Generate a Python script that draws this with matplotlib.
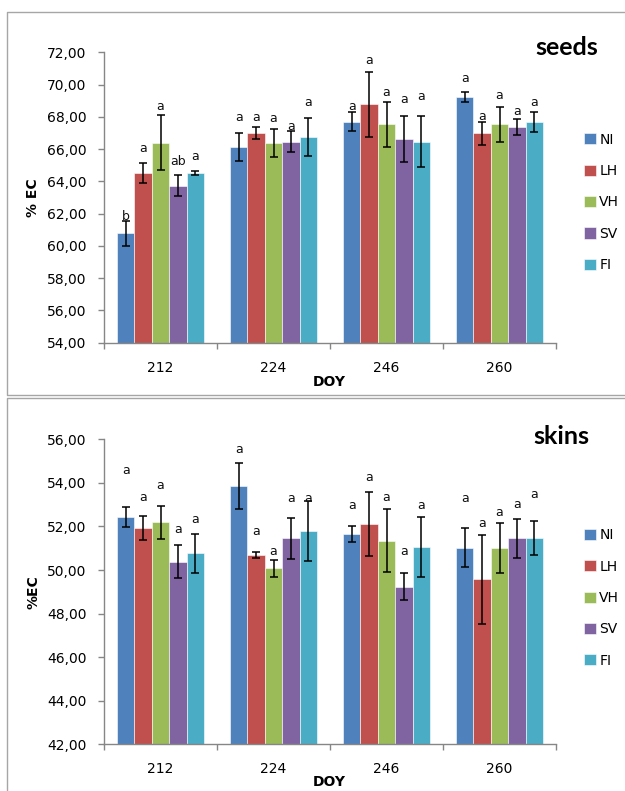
import matplotlib
matplotlib.use("Agg")
import matplotlib.pyplot as plt
import numpy as np
from matplotlib.ticker import FuncFormatter, FixedLocator
from matplotlib.lines import Line2D

# ---- data -------------------------------------------------------------
doy = ["212", "224", "246", "260"]
treatments = ["NI", "LH", "VH", "SV", "FI"]
colors = ["#4F81BD", "#C0504D", "#9BBB59", "#8064A2", "#4BACC6"]

# seeds: mean %EC per treatment (rows) for each DOY (columns)
seeds_mean = [
    [60.78, 66.13, 67.70, 69.25],   # NI
    [64.50, 66.98, 68.78, 66.98],   # LH
    [66.40, 66.36, 67.54, 67.54],   # VH
    [63.74, 66.46, 66.63, 67.37],   # SV
    [64.50, 66.73, 66.46, 67.70],   # FI
]
seeds_err = [
    [0.78, 0.84, 0.60, 0.31],
    [0.62, 0.38, 2.00, 0.72],
    [1.70, 0.88, 1.40, 1.08],
    [0.67, 0.65, 1.41, 0.50],
    [0.13, 1.17, 1.57, 0.62],
]
seeds_letters = [
    ["b", "a", "a", "a"],
    ["a", "a", "a", "a"],
    ["a", "a", "a", "a"],
    ["ab", "a", "a", "a"],
    ["a", "a", "a", "a"],
]
seeds_letter_y = [
    [61.81, 67.95, 68.67, 70.35],
    [66.01, 67.95, 71.48, 68.05],
    [68.63, 67.91, 69.52, 69.35],
    [65.26, 67.43, 69.05, 68.31],
    [65.53, 68.88, 69.26, 68.88],
]

# skins
skins_mean = [
    [52.42, 53.84, 51.65, 51.03],
    [51.92, 50.69, 52.11, 49.57],
    [52.19, 50.08, 51.35, 51.03],
    [50.38, 51.46, 49.24, 51.46],
    [50.77, 51.79, 51.07, 51.46],
]
skins_err = [
    [0.46, 1.05, 0.35, 0.90],
    [0.56, 0.12, 1.47, 2.04],
    [0.77, 0.38, 1.43, 1.15],
    [0.75, 0.95, 0.63, 0.90],
    [0.90, 1.36, 1.38, 0.77],
]
skins_letters = [
    ["a", "a", "a", "a"],
    ["a", "a", "a", "a"],
    ["a", "a", "a", "a"],
    ["a", "a", "a", "a"],
    ["a", "a", "a", "a"],
]
skins_letter_y = [
    [54.55, 55.51, 52.96, 53.26],
    [53.32, 51.79, 54.24, 52.14],
    [53.86, 50.84, 53.34, 52.65],
    [51.84, 53.26, 50.84, 53.03],
    [52.30, 53.26, 52.96, 53.48],
]

# ---- figure -----------------------------------------------------------
W, H = 625, 791
fig = plt.figure(figsize=(W / 100, H / 100), dpi=100)
plt.rcParams["font.family"] = ["DejaVu Sans"]

AXIS_GREY = "#868686"
BORDER_GREY = "#A6A6A6"


def px_rect(left, top, right, bottom):
    return [left / W, 1 - bottom / H, (right - left) / W, (bottom - top) / H]


def fmt_comma(v, pos):
    return f"{v:.2f}".replace(".", ",")


def draw_panel(ax, means, errs, letters, letter_y, ymin, ymax, ylabel, title,
               title_xy, legend_y, doy_y):
    n = len(treatments)
    bw = 1 / (n + 1.5)
    x = np.arange(len(doy))
    for i, name in enumerate(treatments):
        xs = x + (i - (n - 1) / 2) * bw
        ax.bar(xs, np.array(means[i]) - ymin, bw, bottom=ymin, color=colors[i],
               edgecolor="white", linewidth=0.4, label=name, zorder=2)
        ax.errorbar(xs, means[i], yerr=errs[i], fmt="none", ecolor="black",
                    elinewidth=1.1, capsize=3, capthick=1.1, zorder=3)
        for j, xv in enumerate(xs):
            ax.text(xv, letter_y[i][j], letters[i][j], ha="center",
                    va="center", fontsize=9, color="#111111", zorder=4)

    ax.set_xlim(-0.5, len(doy) - 0.5)
    ax.set_ylim(ymin, ymax)
    ax.yaxis.set_major_locator(FixedLocator(np.arange(ymin, ymax + 0.1, 2)))
    ax.yaxis.set_major_formatter(FuncFormatter(fmt_comma))
    ax.set_xticks(x)
    ax.set_xticklabels(doy)
    ax.set_xticks(np.arange(-0.5, len(doy), 1), minor=True)
    ax.tick_params(axis="x", which="major", length=0, pad=13, labelsize=10)
    ax.tick_params(axis="x", which="minor", length=4.5, width=1,
                   color=AXIS_GREY, direction="out")
    ax.tick_params(axis="y", length=4.5, width=1, color=AXIS_GREY,
                   direction="out", pad=8, labelsize=10)
    for s in ("top", "right"):
        ax.spines[s].set_visible(False)
    for s in ("left", "bottom"):
        ax.spines[s].set_color(AXIS_GREY)
        ax.spines[s].set_linewidth(1)

    ax.text(-0.157, 0.50, ylabel, transform=ax.transAxes, rotation=90,
            ha="center", va="center", fontsize=10, fontweight="bold")
    ax.text(0.498, doy_y, "DOY", transform=ax.transAxes, ha="center",
            va="center", fontsize=10, fontweight="bold")

    fig.text(title_xy[0] / W, 1 - title_xy[1] / H, title, ha="left",
             va="baseline", fontsize=18, fontweight="bold",
             family=["Lato", "DejaVu Sans"])

    ax.legend(loc="center left", bbox_to_anchor=(1.062, legend_y),
              frameon=False, borderaxespad=0, borderpad=0, fontsize=10,
              handlelength=0.85, handleheight=0.85, handletextpad=0.25,
              labelspacing=1.25)


ax1 = fig.add_axes(px_rect(104, 52.3, 556, 342.7))
draw_panel(ax1, seeds_mean, seeds_err, seeds_letters, seeds_letter_y,
           54, 72, "% EC", "seeds", (535, 55), 0.483, -0.136)

ax2 = fig.add_axes(px_rect(104, 439.3, 556, 744.3))
draw_panel(ax2, skins_mean, skins_err, skins_letters, skins_letter_y,
           42, 56, "%EC", "skins", (533, 444), 0.48, -0.125)

# panel frames
def fig_line(xs, ys):
    fig.add_artist(Line2D([v / W for v in xs], [1 - v / H for v in ys],
                          color=BORDER_GREY, linewidth=1.0))

fig_line([625, 7.3, 7.3, 625], [11.7, 11.7, 394.7, 394.7])
fig_line([625, 7.3, 7.3], [397.7, 397.7, 791])

fig.savefig("out.png", dpi=100)
